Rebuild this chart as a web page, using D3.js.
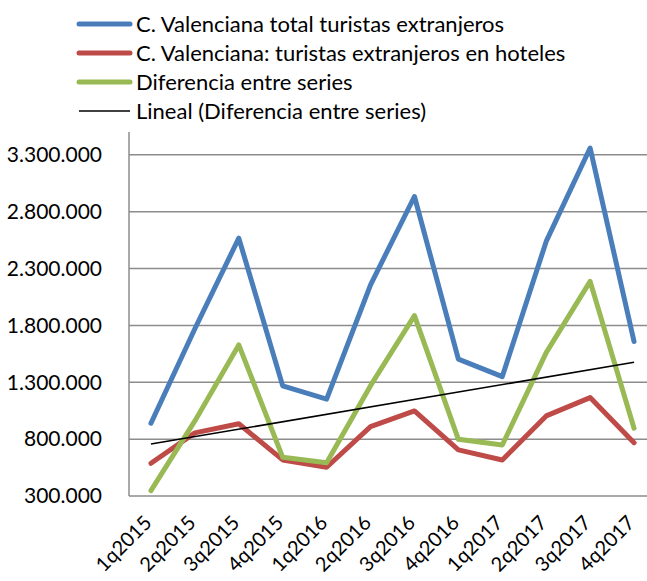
<!DOCTYPE html>
<meta charset="utf-8">
<style>
  body { margin: 0; background: #fff; }
  text { font-family: Lato, "Open Sans", sans-serif; fill: #000; }
  .grid line { stroke: #8c8c8c; stroke-width: 1.5px; }
  .serie { fill: none; stroke-width: 5px; stroke-linejoin: round; stroke-linecap: round; }
</style>
<body>
<svg width="647" height="581"></svg>
<script src="https://d3js.org/d3.v7.min.js"></script>
<script>

// datos
var trimestres = ["1q2015","2q2015","3q2015","4q2015","1q2016","2q2016","3q2016","4q2016","1q2017","2q2017","3q2017","4q2017"];
var totalTuristas = [940000, 1770000, 2567000, 1268000, 1151000, 2156000, 2933000, 1503000, 1350000, 2538000, 3359000, 1658000];
var enHoteles = [588000, 855000, 935000, 617000, 553000, 910000, 1048000, 705000, 617000, 1004000, 1165000, 769000];
var diferencia = [347000, 960000, 1628000, 640000, 593000, 1270000, 1886000, 798000, 748000, 1560000, 2187000, 896000];
var lineal = [757000, 1476000]; // extremos de la tendencia (1q2015 -> 4q2017)
var yTicks = [300000, 800000, 1300000, 1800000, 2300000, 2800000, 3300000];

var series = [
  {name: "C. Valenciana total turistas extranjeros", color: "#4a7ebb", values: totalTuristas},
  {name: "C. Valenciana: turistas extranjeros en hoteles", color: "#be4b48", values: enHoteles},
  {name: "Diferencia entre series", color: "#98b954", values: diferencia}
];

var svg = d3.select("svg");

var x = d3.scaleBand().domain(trimestres).range([129, 656]);
var y = d3.scaleLinear().domain([300000, 3500000]).range([496, 132]);
var cx = function(d) { return x(d) + x.bandwidth() / 2; };

// gridlines
svg.append("g").attr("class", "grid")
  .selectAll("line")
  .data(yTicks.slice(1))
  .enter().append("line")
  .attr("x1", 129).attr("x2", 656)
  .attr("y1", d => y(d)).attr("y2", d => y(d));

// ejes
svg.append("line").attr("x1", 129).attr("x2", 129).attr("y1", y(3500000)).attr("y2", y(300000))
  .attr("stroke", "#8c8c8c").attr("stroke-width", 1.5);
svg.append("line").attr("x1", 129).attr("x2", 656).attr("y1", y(300000)).attr("y2", y(300000))
  .attr("stroke", "#8c8c8c").attr("stroke-width", 1.5);

var fmt = d => d3.format(",")(d).replace(/,/g, ".");

svg.append("g").selectAll("text")
  .data(yTicks)
  .enter().append("text")
  .attr("x", 102).attr("y", d => y(d))
  .attr("dy", "0.35em")
  .attr("text-anchor", "end")
  .style("font-size", "21px")
  .text(fmt);

svg.append("g").selectAll("text")
  .data(trimestres)
  .enter().append("text")
  .attr("transform", d => "translate(" + (cx(d) + 2) + ",524) rotate(-45)")
  .attr("text-anchor", "end")
  .style("font-size", "20px")
  .text(d => d);

var line = d3.line()
  .x((d, i) => cx(trimestres[i]))
  .y(d => y(d));

series.forEach(function(s) {
  svg.append("path")
    .attr("class", "serie")
    .attr("stroke", s.color)
    .attr("d", line(s.values));
});

// tendencia lineal
svg.append("line")
  .attr("x1", cx(trimestres[0])).attr("y1", y(lineal[0]))
  .attr("x2", cx(trimestres[trimestres.length - 1])).attr("y2", y(lineal[1]))
  .attr("stroke", "#000").attr("stroke-width", 1.6);

// leyenda
var leyenda = series.map(s => ({name: s.name, color: s.color, w: 5}))
  .concat([{name: "Lineal (Diferencia entre series)", color: "#000", w: 1.6}]);

var lg = svg.append("g").selectAll("g")
  .data(leyenda)
  .enter().append("g")
  .attr("transform", (d, i) => "translate(0," + (24 + i * 29) + ")");

lg.append("line")
  .attr("x1", 79).attr("x2", 130)
  .attr("stroke", d => d.color)
  .attr("stroke-width", d => d.w)
  .attr("stroke-linecap", d => d.w > 2 ? "round" : "butt");

lg.append("text")
  .attr("x", 136).attr("dy", "0.35em")
  .style("font-size", "22px")
  .text(d => d.name);

</script>
</body>
